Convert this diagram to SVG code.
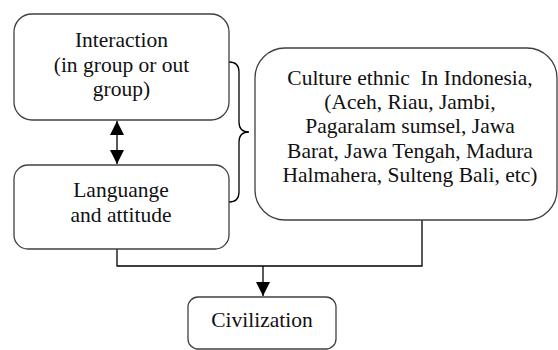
<svg xmlns="http://www.w3.org/2000/svg" width="558" height="350" viewBox="0 0 558 350">
<style>
.box{fill:#fff;stroke:#404040;stroke-width:1.3}
.c{fill:none;stroke:#000;stroke-width:1.3}
</style>
<defs>
<marker id="ah2" viewBox="0 0 14 14" refX="14" refY="7" markerWidth="14" markerHeight="14" markerUnits="userSpaceOnUse" orient="auto-start-reverse">
<path d="M0,0 L14,7 L0,14 z" fill="#000"/>
</marker>
</defs>
<rect width="558" height="350" fill="#fff"/>
<g id="connectors">
<line class="c" x1="117" y1="121" x2="117" y2="164" marker-start="url(#ah2)" marker-end="url(#ah2)"/>
<path class="c" d="M229,62 Q239,62 239,72 L239,122 Q239,132 249,132 Q239,132 239,142 L239,192 Q239,202 229,202"/>
<path class="c" d="M117,249 L117,266 L422,266 L422,220"/>
<line class="c" x1="263" y1="266" x2="263" y2="296" marker-end="url(#ah2)"/>
</g>
<g font-family="'Liberation Serif', 'DejaVu Serif', 'Times New Roman', serif" font-size="21.5" fill="#111" text-anchor="middle">
<g id="interaction">
<rect class="box" x="14" y="14" width="215" height="106" rx="18"/>
<text x="121.5" y="47">Interaction</text>
<text x="121.5" y="71.5">(in group or out</text>
<text x="121.5" y="96">group)</text>
</g>
<g id="language">
<rect class="box" x="14" y="165" width="215" height="84" rx="14"/>
<text x="121" y="197">Languange</text>
<text x="121" y="221.5">and attitude</text>
</g>
<g id="culture">
<rect class="box" x="255" y="48" width="302" height="172" rx="30"/>
<text x="410" y="85" xml:space="preserve" style="white-space:pre">Culture ethnic  In Indonesia,</text>
<text x="410" y="109">(Aceh, Riau, Jambi,</text>
<text x="410" y="133.4">Pagaralam sumsel, Jawa</text>
<text x="410" y="157.6">Barat, Jawa Tengah, Madura</text>
<text x="410" y="181.8">Halmahera, Sulteng Bali, etc)</text>
</g>
<g id="civilization">
<rect class="box" x="188" y="297" width="148" height="52" rx="10"/>
<text x="262" y="327">Civilization</text>
</g>
</g>
</svg>
